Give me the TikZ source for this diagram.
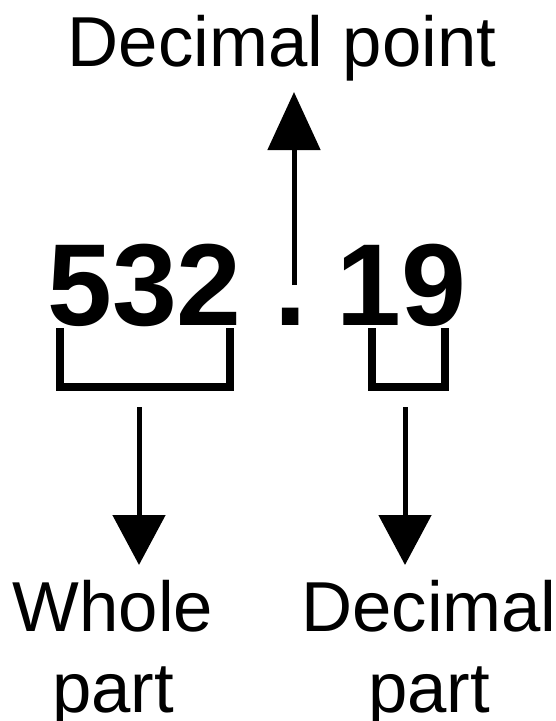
\documentclass[tikz,border=0pt]{standalone}
\usepackage{fontspec}
\setmainfont{Liberation Sans}
\usetikzlibrary{arrows.meta}
\begin{document}
\begin{tikzpicture}[x=1bp, y=-1bp, line join=miter,
  lbl/.style={font=\fontsize{71}{81}\selectfont, inner sep=0pt, align=center},
  num/.style={font=\fontsize{117}{117}\selectfont\bfseries, inner sep=0pt, anchor=base},
  brk/.style={line width=7.5bp},
  arr/.style={line width=5bp}]
 \useasboundingbox (0,0) rectangle (556,721);
 \def\ybase{325} \def\ytop{328} \def\ybot{387}
 % the number
 \node[num] (whole) at (144.5,\ybase) {532};
 \node[num] (dot) at (291,\ybase) {.};
 \node[num] (frac) at (401.5,\ybase) {19};
 % labels
 \node[lbl, anchor=base] (ptlabel) at (282,67) {Decimal point};
 \node[lbl, anchor=north] (wlabel) at (113,580) {Whole\\part};
 \node[lbl, anchor=north] (flabel) at (429,580) {Decimal\\part};
 % brackets
 \draw[brk] (60,\ytop)--(60,\ybot)--(230,\ybot)--(230,\ytop);
 \draw[brk] (372,\ytop)--(372,\ybot)--(445,\ybot)--(445,\ytop);
 % arrows
 \coordinate (pfoot) at (294,285);
 \coordinate (ptip) at (294,92);
 \coordinate (wtop) at (139,407);
 \coordinate (wtip) at (139,565);
 \coordinate (ftop) at (405,407);
 \coordinate (ftip) at (405,565);
 \draw[arr,-{Triangle[length=58bp,width=52bp]}] (pfoot)--(ptip);
 \draw[arr,-{Triangle[length=50bp,width=52bp]}] (wtop)--(wtip);
 \draw[arr,-{Triangle[length=50bp,width=52bp]}] (ftop)--(ftip);
\end{tikzpicture}
\end{document}
